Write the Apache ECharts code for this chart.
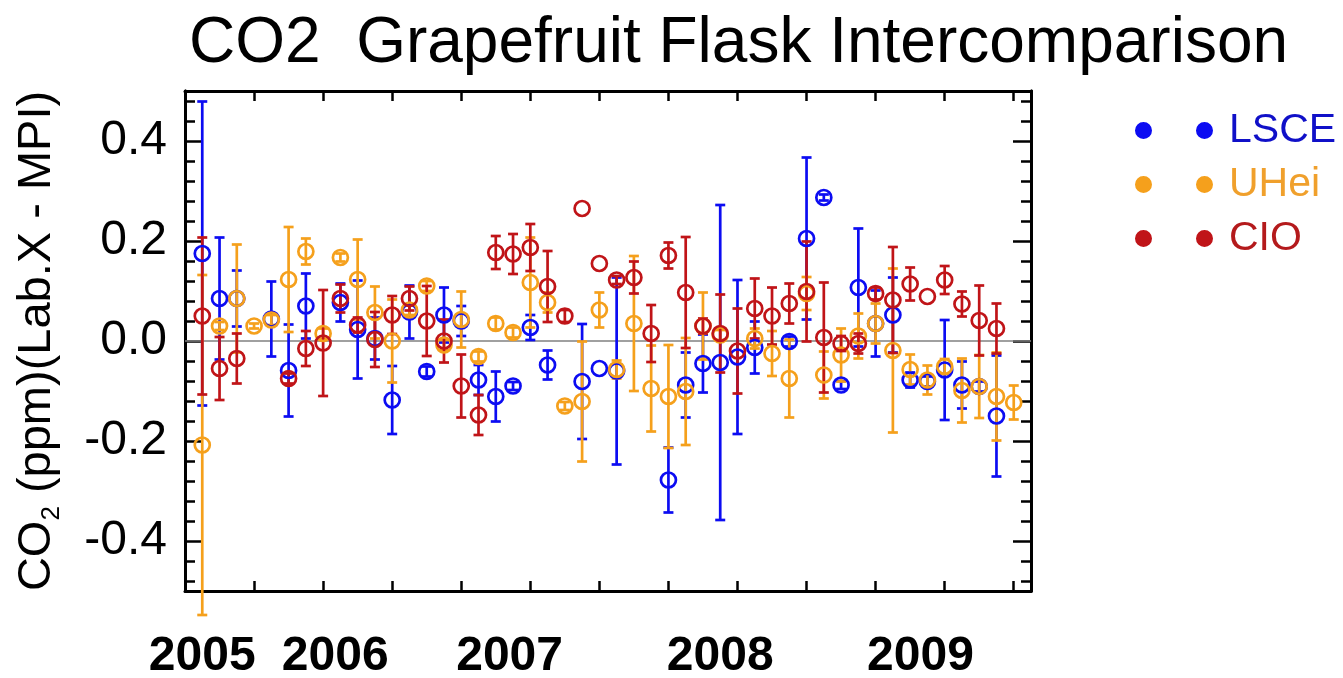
<!DOCTYPE html>
<html>
<head>
<meta charset="utf-8">
<title>CO2 Grapefruit Flask Intercomparison</title>
<script src="https://cdn.jsdelivr.net/npm/echarts@6/dist/echarts.min.js"></script>
<style>
  html, body { margin: 0; padding: 0; background: #ffffff; }
  #chart { width: 1343px; height: 678px; }
</style>
</head>
<body>
<div id="chart"></div>
<script>
// Flask sample number (x) for each pair of results
const sampleIdx = [1, 2, 3, 4, 5, 6, 7, 8, 9, 10, 11, 12, 13, 14, 15, 16,
  17, 18, 19, 20, 21, 22, 23, 24, 25, 26, 27, 28, 29, 30, 31, 32,
  33, 34, 35, 36, 37, 38, 39, 40, 41, 42, 43, 44, 45, 46, 47, 48];

// Difference Lab.X - MPI (ppm) and its uncertainty, one entry per sample
const lsceVal = [0.175, 0.085, 0.085, null, 0.044, -0.059, 0.070, null, 0.077, 0.023, 0.005, -0.118, 0.058, -0.061, 0.052, 0.040,
  -0.078, -0.111, -0.090, 0.027, -0.048, null, -0.081, -0.055, -0.060, null, null, -0.278, -0.088, -0.045, -0.043, -0.032,
  -0.013, null, -0.001, 0.205, 0.287, -0.088, 0.107, 0.035, 0.052, -0.078, -0.081, -0.058, -0.088, -0.091, -0.150, null];
const lsceErr = [0.304, 0.122, 0.056, null, 0.075, 0.092, 0.065, null, 0.038, 0.098, 0.042, 0.068, 0.053, 0.010, 0.055, 0.030,
  0.030, 0.050, 0.008, 0.025, 0.029, null, 0.115, 0.000, 0.187, null, null, 0.065, 0.065, 0.058, 0.315, 0.154,
  0.052, null, 0.010, 0.162, 0.006, 0.008, 0.118, 0.066, 0.075, 0.015, 0.010, 0.100, 0.047, 0.010, 0.121, null];

const uheiVal = [-0.208, 0.030, 0.085, 0.030, 0.042, 0.123, 0.179, 0.015, 0.167, 0.123, 0.057, 0.000, 0.062, 0.110, -0.008, 0.043,
  -0.031, 0.035, 0.017, 0.117, 0.077, -0.130, -0.121, 0.062, -0.057, 0.035, -0.095, -0.111, -0.101, 0.030, 0.012, null,
  0.005, -0.025, -0.075, 0.095, -0.068, -0.028, 0.010, 0.035, -0.019, -0.057, -0.078, -0.051, -0.099, -0.091, -0.111, -0.123];
const uheiErr = [0.340, 0.008, 0.108, 0.005, 0.010, 0.105, 0.026, 0.010, 0.008, 0.080, 0.052, 0.083, 0.010, 0.010, 0.010, 0.056,
  0.010, 0.012, 0.010, 0.090, 0.020, 0.008, 0.120, 0.035, 0.018, 0.135, 0.086, 0.103, 0.107, 0.067, 0.010, null,
  0.020, 0.045, 0.078, 0.033, 0.047, 0.053, 0.045, 0.040, 0.164, 0.030, 0.029, 0.015, 0.064, 0.063, 0.088, 0.034];

const cioVal = [0.050, -0.055, -0.035, null, null, -0.075, -0.015, -0.004, 0.085, 0.032, 0.003, 0.052, 0.085, 0.040, 0.000, -0.090,
  -0.148, 0.177, 0.174, 0.187, 0.109, 0.050, 0.265, 0.155, 0.122, 0.127, 0.015, 0.171, 0.097, 0.030, 0.015, -0.020,
  0.065, 0.050, 0.075, 0.099, 0.007, -0.005, -0.005, 0.095, 0.082, 0.114, 0.089, 0.122, 0.074, 0.041, 0.025, null];
const cioErr = [0.157, 0.063, 0.050, null, null, 0.010, 0.035, 0.106, 0.028, 0.015, 0.055, 0.038, 0.024, 0.070, 0.043, 0.063,
  0.040, 0.033, 0.040, 0.047, 0.071, 0.012, 0.000, 0.000, 0.008, 0.032, 0.057, 0.026, 0.111, 0.015, 0.078, 0.085,
  0.060, 0.057, 0.040, 0.100, 0.110, 0.015, 0.020, 0.012, 0.106, 0.033, 0.000, 0.028, 0.025, 0.070, 0.050, null];

// Year captions under the sample axis, placed at the sample where each year starts
const yearLabels = ['2005', '2006', '2007', '2008', '2009'];
const yearPos = [1, 8.7, 18.8, 31, 42.6];

// Y axis tick values
const yMajor = [-0.4, -0.2, 0, 0.2, 0.4];
const yMinor = [-0.48, -0.44, -0.36, -0.32, -0.28, -0.24, -0.16, -0.12, -0.08, -0.04,
  0.04, 0.08, 0.12, 0.16, 0.24, 0.28, 0.32, 0.36, 0.44, 0.48];

const FONT = 'Liberation Sans, Arial, Helvetica, sans-serif';
const labs = [
  { name: 'LSCE', vals: lsceVal, errs: lsceErr, color: '#0c0cf2', text: '#1010c8' },
  { name: 'UHei', vals: uheiVal, errs: uheiErr, color: '#f5a01c', text: '#f0a02c' },
  { name: 'CIO',  vals: cioVal,  errs: cioErr,  color: '#c01418', text: '#b41a1c' }
];

// two filled dots side by side, used as the legend marker
const twoDots = 'path://M0,8.5A8.5,8.5,0,1,1,17,8.5A8.5,8.5,0,1,1,0,8.5Z' +
  'M61,8.5A8.5,8.5,0,1,1,78,8.5A8.5,8.5,0,1,1,61,8.5Z';

function errorBars(lab) {
  const data = [];
  sampleIdx.forEach((x, k) => {
    if (lab.vals[k] !== null) data.push([x, lab.vals[k], lab.errs[k]]);
  });
  return {
    type: 'custom',
    name: lab.name + ' error',
    xAxisIndex: 0,
    yAxisIndex: 0,
    clip: false,
    silent: true,
    encode: { x: 0, y: 1 },
    data: data,
    renderItem: function (params, api) {
      const x = api.value(0), v = api.value(1), e = api.value(2);
      if (!(e > 0)) return null;
      const top = api.coord([x, v + e]);
      const bot = api.coord([x, v - e]);
      const hw = 5;
      const style = { stroke: lab.color, lineWidth: 2.7, fill: null };
      return {
        type: 'group',
        children: [
          { type: 'line', shape: { x1: top[0], y1: top[1], x2: bot[0], y2: bot[1] }, style: style },
          { type: 'line', shape: { x1: top[0] - hw, y1: top[1], x2: top[0] + hw, y2: top[1] }, style: style },
          { type: 'line', shape: { x1: bot[0] - hw, y1: bot[1], x2: bot[0] + hw, y2: bot[1] }, style: style }
        ]
      };
    }
  };
}

function points(lab) {
  const data = [];
  sampleIdx.forEach((x, k) => {
    if (lab.vals[k] !== null) data.push([x, lab.vals[k]]);
  });
  return {
    type: 'scatter',
    name: lab.name,
    xAxisIndex: 0,
    yAxisIndex: 0,
    symbol: 'circle',
    symbolSize: 15,
    silent: true,
    itemStyle: { color: 'rgba(0,0,0,0)', borderColor: lab.color, borderWidth: 2.7, opacity: 1 },
    data: data
  };
}

const series = [];
labs.forEach((lab, i) => {
  const eb = errorBars(lab);
  if (i === 0) {
    eb.markLine = {
      silent: true,
      symbol: 'none',
      z: 1,
      label: { show: false },
      lineStyle: { color: '#808080', width: 1.6, type: 'solid' },
      data: [{ yAxis: 0 }]
    };
  }
  series.push(eb);
  series.push(points(lab));
});

const boxLine = { show: true, onZero: false, lineStyle: { color: '#000', width: 3 } };
const baseX = {
  type: 'value', min: 0, max: 49, interval: 4,
  axisLine: boxLine,
  axisTick: { show: true, inside: true, length: 10, lineStyle: { color: '#000', width: 2.5 } },
  axisLabel: { show: false },
  splitLine: { show: false }
};
function yAxisDef(position, ticks, len, withLabels) {
  return {
    type: 'value', min: -0.5, max: 0.5, position: position,
    axisLine: withLabels !== null ? boxLine : { show: false },
    axisTick: { show: true, inside: true, length: len, customValues: ticks,
      lineStyle: { color: '#000', width: 2.5 } },
    axisLabel: withLabels ? {
      show: true, customValues: yMajor, margin: 18,
      fontSize: 48, fontFamily: FONT, color: '#000',
      formatter: v => v.toFixed(1)
    } : { show: false },
    splitLine: { show: false }
  };
}

const yLeft = yAxisDef('left', yMajor, 18, true);
yLeft.name = '{n|CO}{s|2}{n| (ppm)(Lab.X - MPI)}';
yLeft.nameLocation = 'middle';
yLeft.nameRotate = 90;
yLeft.nameGap = 120;
yLeft.nameTextStyle = {
  rich: {
    n: { fontSize: 47, lineHeight: 56, fontFamily: FONT, color: '#000' },
    s: { fontSize: 26, lineHeight: 26, fontFamily: FONT, color: '#000', verticalAlign: 'bottom' }
  }
};

const option = {
  animation: false,
  backgroundColor: '#ffffff',
  title: {
    text: 'CO2  Grapefruit Flask Intercomparison',
    left: 184, top: 7,
    textStyle: { fontSize: 64, fontWeight: 'normal', fontFamily: FONT, color: '#000' }
  },
  legend: {
    orient: 'vertical',
    left: 1130, top: 105,
    itemWidth: 78, itemHeight: 17, itemGap: 13,
    selectedMode: false,
    textStyle: { fontSize: 41, lineHeight: 41, fontFamily: FONT, padding: [0, 0, 0, 11] },
    data: labs.map(lab => ({
      name: lab.name,
      icon: twoDots,
      itemStyle: { color: lab.color, borderWidth: 0 },
      textStyle: { color: lab.text }
    }))
  },
  grid: { left: 185, right: 312, top: 91, bottom: 87, containLabel: false, outerBoundsMode: 'none' },
  xAxis: [
    Object.assign({}, baseX, { position: 'bottom' }),
    Object.assign({}, baseX, { position: 'top' }),
    {
      type: 'value', min: 0, max: 49, position: 'bottom',
      axisLine: { show: false }, axisTick: { show: false }, splitLine: { show: false },
      axisLabel: {
        show: true, customValues: yearPos, margin: 42,
        fontSize: 48, fontWeight: 'bold', fontFamily: FONT, color: '#000',
        formatter: v => yearLabels[yearPos.indexOf(v)]
      }
    }
  ],
  yAxis: [
    yLeft,
    yAxisDef('left', yMinor, 10, false),
    yAxisDef('right', yMajor, 18, false),
    yAxisDef('right', yMinor, 10, false)
  ],
  series: series
};

const chart = echarts.init(document.getElementById('chart'), null, { renderer: 'canvas' });
chart.setOption(option);
</script>
</body>
</html>
